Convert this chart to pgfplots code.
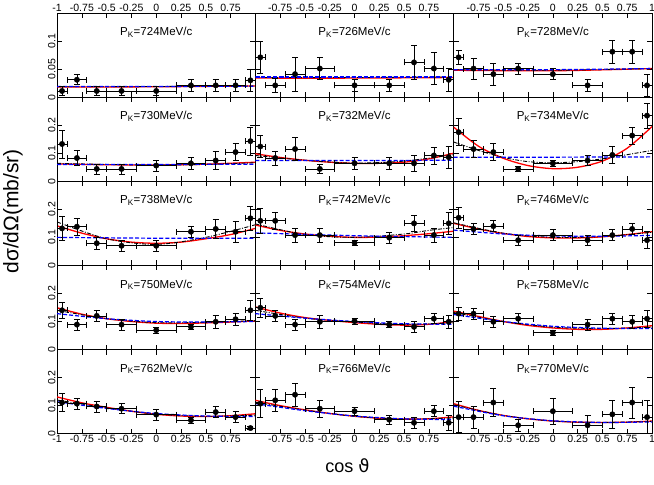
\documentclass[border=0pt]{standalone}
\usepackage{fontspec}
\setmainfont{Liberation Sans}
\newfontfamily\djv{DejaVu Sans}
\usepackage{pgfplots}
\pgfplotsset{compat=1.18}
\usepgfplotslibrary{groupplots}
\usetikzlibrary{calc}

\pgfplotsset{
  dat/.style={only marks, mark=*, mark size=2.7pt, black,
    error bars/.cd, x dir=both, x explicit, y dir=both, y explicit,
    error bar style={line width=0.7pt, black},
    error mark options={rotate=90, mark size=3pt, line width=0.7pt}},
  yA/.style={ymax=0.15, ytick={0,0.05,0.1}},
  yB/.style={ymax=0.3, ytick={0,0.1,0.2}},
  ylA/.style={yticklabels={0,0.05,0.1}},
  ylB/.style={yticklabels={0,0.1,0.2}},
  nyl/.style={yticklabels={{},{},{}}},
  xl1/.style={xticklabels={-1,-0.75,-0.5,-0.25,0,0.25,0.5,0.75,{}}},
  xl2/.style={xticklabels={{},-0.75,-0.5,-0.25,0,0.25,0.5,0.75,{}}},
  xl3/.style={xticklabels={{},-0.75,-0.5,-0.25,0,0.25,0.5,0.75,1}},
  nxl/.style={xticklabels={{},{},{},{},{},{},{},{},{}}},
  top/.style={xticklabel pos=right, xtick pos=both},
}

% #1 momentum, #2 data, #3 red, #4 blue, #5 black dash-dot
\newcommand{\panel}[5]{%
  \addplot[red, line width=1.3pt, smooth] coordinates {#3};
  \addplot[black, line width=0.9pt, smooth, dash pattern=on 4pt off 1.5pt on 1pt off 1.5pt] coordinates {#5};
  \addplot[blue, line width=1.2pt, smooth, dash pattern=on 4pt off 2pt] coordinates {#4};
  \addplot[dat] coordinates {#2};
  \node[font=\fontsize{11.5}{13}\selectfont] at (rel axis cs:0.5,0.77) {P\textsubscript{K}=#1MeV/c};
}

\begin{document}
\begin{tikzpicture}
\begin{groupplot}[
  group style={group size=3 by 5, horizontal sep=0pt, vertical sep=0pt},
  width=198pt, height=84pt, scale only axis,
  xmin=-1, xmax=1, ymin=0,
  xtick={-1,-0.75,-0.5,-0.25,0,0.25,0.5,0.75,1},
  tick align=inside, major tick length=5pt,
  tick style={black, line width=0.6pt},
  axis line style={line width=0.9pt},
  ticklabel style={font=\fontsize{10.5}{12}\selectfont},
  yticklabel style={rotate=90, anchor=south, inner sep=1.5pt},
  xticklabel style={inner sep=1.5pt},
]
% ---- row 1
\nextgroupplot[yA, ylA, xl1, top]
\panel{724}{(-0.95,0.011)+-(0.05,0.008) (-0.8,0.031)+-(0.1,0.009) (-0.6,0.011)+-(0.1,0.008) (-0.35,0.011)+-(0.15,0.008) (0,0.011)+-(0.2,0.008) (0.35,0.021)+-(0.15,0.01) (0.6,0.021)+-(0.1,0.01) (0.8,0.021)+-(0.1,0.01) (0.95,0.030)+-(0.05,0.02)}
{(-1,0.018) (0,0.0185) (1,0.020)}
{(-1,0.019) (0,0.019) (1,0.0195)}
{(-1,0.0185) (0,0.019) (1,0.020)}
\nextgroupplot[yA, nyl, xl2, top]
\panel{726}{(-0.95,0.071)+-(0.05,0.028) (-0.8,0.021)+-(0.1,0.012) (-0.6,0.041)+-(0.1,0.03) (-0.35,0.051)+-(0.15,0.02) (0,0.021)+-(0.2,0.01) (0.35,0.021)+-(0.15,0.01) (0.6,0.062)+-(0.1,0.03) (0.8,0.051)+-(0.1,0.029) (0.95,0.031)+-(0.05,0.02)}
{(-1,0.034) (0,0.034) (1,0.035)}
{(-1,0.036) (0,0.036) (1,0.036)}
{(-1,0.035) (0,0.035) (1,0.036)}
\nextgroupplot[yA, nyl, xl3, top]
\panel{728}{(-0.95,0.071)+-(0.05,0.012) (-0.8,0.051)+-(0.1,0.019) (-0.6,0.041)+-(0.1,0.02) (-0.35,0.051)+-(0.15,0.01) (0,0.041)+-(0.2,0.01) (0.35,0.021)+-(0.15,0.01) (0.6,0.081)+-(0.1,0.02) (0.8,0.081)+-(0.1,0.02) (0.95,0.021)+-(0.05,0.02)}
{(-1,0.048) (0,0.047) (1,0.051)}
{(-1,0.049) (0,0.049) (1,0.051)}
{(-1,0.049) (0,0.048) (1,0.051)}
% ---- row 2
\nextgroupplot[yB, ylB, nxl]
\panel{730}{(-0.95,0.133)+-(0.05,0.05) (-0.8,0.083)+-(0.1,0.026) (-0.6,0.044)+-(0.1,0.018) (-0.35,0.044)+-(0.15,0.018) (0,0.056)+-(0.2,0.02) (0.35,0.064)+-(0.15,0.02) (0.6,0.074)+-(0.1,0.033) (0.8,0.104)+-(0.1,0.03) (0.95,0.143)+-(0.05,0.05)}
{(-1,0.062) (-0.5,0.059) (0,0.058) (0.5,0.061) (1,0.068)}
{(-1,0.06) (0,0.06) (1,0.061)}
{(-1,0.064) (-0.5,0.06) (0,0.058) (0.5,0.06) (1,0.066)}
\nextgroupplot[yB, nyl, nxl]
\panel{732}{(-0.95,0.124)+-(0.05,0.04) (-0.8,0.083)+-(0.1,0.025) (-0.6,0.115)+-(0.1,0.042) (-0.35,0.044)+-(0.15,0.015) (0,0.064)+-(0.2,0.02) (0.35,0.064)+-(0.15,0.02) (0.6,0.064)+-(0.1,0.03) (0.8,0.092)+-(0.1,0.03) (0.95,0.086)+-(0.05,0.04)}
{(-1,0.098) (-0.75,0.085) (-0.5,0.075) (-0.25,0.068) (0,0.064) (0.25,0.064) (0.5,0.068) (0.75,0.08) (1,0.1)}
{(-1,0.074) (0,0.074) (1,0.075)}
{(-1,0.092) (-0.5,0.075) (0,0.065) (0.5,0.072) (1,0.095)}
\nextgroupplot[yB, nyl, nxl]
\panel{734}{(-0.95,0.175)+-(0.05,0.048) (-0.8,0.115)+-(0.1,0.03) (-0.6,0.104)+-(0.1,0.03) (-0.35,0.044)+-(0.15,0.01) (0,0.064)+-(0.2,0.01) (0.35,0.074)+-(0.15,0.018) (0.6,0.094)+-(0.1,0.03) (0.8,0.163)+-(0.1,0.03) (0.95,0.234)+-(0.05,0.045)}
{(-1,0.193) (-0.75,0.125) (-0.5,0.082) (-0.25,0.056) (0,0.045) (0.25,0.05) (0.5,0.072) (0.75,0.118) (1,0.195)}
{(-1,0.086) (0,0.086) (1,0.087)}
{(-1,0.14) (-0.75,0.11) (-0.5,0.085) (-0.25,0.07) (0,0.066) (0.25,0.07) (0.5,0.08) (0.75,0.095) (1,0.11)}
% ---- row 3
\nextgroupplot[yB, ylB, nxl]
\panel{738}{(-0.95,0.132)+-(0.05,0.042) (-0.8,0.138)+-(0.1,0.03) (-0.6,0.079)+-(0.1,0.022) (-0.35,0.07)+-(0.15,0.02) (0,0.07)+-(0.2,0.02) (0.35,0.12)+-(0.15,0.02) (0.6,0.13)+-(0.1,0.033) (0.8,0.12)+-(0.1,0.037) (0.95,0.168)+-(0.05,0.042)}
{(-1,0.141) (-0.75,0.115) (-0.5,0.095) (-0.25,0.083) (0,0.079) (0.25,0.083) (0.5,0.095) (0.75,0.11) (1,0.132)}
{(-1,0.1) (0,0.097) (1,0.097)}
{(-1,0.155) (-0.5,0.095) (0,0.075) (0.5,0.1) (1,0.145)}
\nextgroupplot[yB, nyl, nxl]
\panel{742}{(-0.95,0.159)+-(0.05,0.045) (-0.8,0.159)+-(0.1,0.03) (-0.6,0.108)+-(0.1,0.024) (-0.35,0.108)+-(0.15,0.024) (0,0.081)+-(0.2,0.01) (0.35,0.099)+-(0.15,0.02) (0.6,0.15)+-(0.1,0.03) (0.8,0.108)+-(0.1,0.024) (0.95,0.15)+-(0.05,0.04)}
{(-1,0.144) (-0.75,0.125) (-0.5,0.112) (-0.25,0.104) (0,0.1) (0.25,0.101) (0.5,0.106) (0.75,0.113) (1,0.122)}
{(-1,0.116) (0,0.106) (1,0.1)}
{(-1,0.148) (-0.5,0.11) (0,0.1) (0.5,0.112) (0.75,0.125) (1,0.135)}
\nextgroupplot[yB, nyl, nxl]
\panel{746}{(-0.95,0.17)+-(0.05,0.038) (-0.8,0.13)+-(0.1,0.02) (-0.6,0.14)+-(0.1,0.02) (-0.35,0.09)+-(0.15,0.018) (0,0.108)+-(0.2,0.02) (0.35,0.09)+-(0.15,0.018) (0.6,0.108)+-(0.1,0.02) (0.8,0.13)+-(0.1,0.02) (0.95,0.09)+-(0.05,0.03)}
{(-1,0.15) (-0.75,0.13) (-0.5,0.114) (-0.25,0.103) (0,0.098) (0.25,0.098) (0.5,0.102) (0.75,0.11) (1,0.12)}
{(-1,0.126) (-0.5,0.112) (0,0.105) (0.5,0.104) (1,0.107)}
{(-1,0.152) (-0.5,0.115) (0,0.1) (0.5,0.103) (1,0.118)}
% ---- row 4
\nextgroupplot[yB, ylB, nxl]
\panel{750}{(-0.95,0.14)+-(0.05,0.03) (-0.8,0.089)+-(0.1,0.02) (-0.6,0.12)+-(0.1,0.02) (-0.35,0.089)+-(0.15,0.02) (0,0.069)+-(0.2,0.01) (0.35,0.081)+-(0.15,0.01) (0.6,0.099)+-(0.1,0.024) (0.8,0.108)+-(0.1,0.02) (0.95,0.14)+-(0.05,0.036)}
{(-1,0.149) (-0.75,0.126) (-0.5,0.11) (-0.25,0.1) (0,0.094) (0.25,0.093) (0.5,0.095) (0.75,0.098) (1,0.102)}
{(-1,0.128) (-0.5,0.11) (0,0.1) (0.5,0.098) (1,0.1)}
{(-1,0.14) (-0.5,0.11) (0,0.096) (0.5,0.097) (1,0.103)}
\nextgroupplot[yB, nyl, nxl]
\panel{754}{(-0.95,0.149)+-(0.05,0.035) (-0.8,0.12)+-(0.1,0.02) (-0.6,0.089)+-(0.1,0.02) (-0.35,0.099)+-(0.15,0.024) (0,0.101)+-(0.2,0.01) (0.35,0.089)+-(0.15,0.01) (0.6,0.081)+-(0.1,0.02) (0.8,0.11)+-(0.1,0.018) (0.95,0.099)+-(0.05,0.024)}
{(-1,0.152) (-0.75,0.13) (-0.5,0.114) (-0.25,0.104) (0,0.096) (0.25,0.09) (0.5,0.087) (0.75,0.09) (1,0.1)}
{(-1,0.128) (-0.5,0.112) (0,0.1) (0.5,0.092) (1,0.09)}
{(-1,0.14) (-0.5,0.112) (0,0.098) (0.5,0.09) (1,0.095)}
\nextgroupplot[yB, nyl, nxl]
\panel{758}{(-0.95,0.128)+-(0.05,0.024) (-0.8,0.128)+-(0.1,0.02) (-0.6,0.099)+-(0.1,0.02) (-0.35,0.11)+-(0.15,0.018) (0,0.06)+-(0.2,0.01) (0.35,0.089)+-(0.15,0.02) (0.6,0.11)+-(0.1,0.02) (0.8,0.099)+-(0.1,0.022) (0.95,0.11)+-(0.05,0.03)}
{(-1,0.137) (-0.75,0.118) (-0.5,0.1) (-0.25,0.086) (0,0.077) (0.25,0.072) (0.5,0.072) (0.75,0.077) (1,0.085)}
{(-1,0.125) (-0.5,0.1) (0,0.083) (0.5,0.076) (1,0.075)}
{(-1,0.132) (-0.5,0.1) (0,0.08) (0.5,0.075) (1,0.08)}
% ---- row 5
\nextgroupplot[yB, ylB, xl1]
\panel{762}{(-0.95,0.111)+-(0.05,0.032) (-0.8,0.107)+-(0.1,0.02) (-0.6,0.097)+-(0.1,0.02) (-0.35,0.089)+-(0.15,0.018) (0,0.068)+-(0.2,0.02) (0.35,0.048)+-(0.15,0.01) (0.6,0.077)+-(0.1,0.02) (0.8,0.059)+-(0.1,0.02) (0.95,0.02)+-(0.05,0.006)}
{(-1,0.131) (-0.75,0.11) (-0.5,0.094) (-0.25,0.08) (0,0.069) (0.25,0.063) (0.5,0.061) (0.75,0.064) (1,0.071)}
{(-1,0.114) (-0.5,0.09) (0,0.072) (0.5,0.063) (1,0.061)}
{(-1,0.12) (-0.5,0.092) (0,0.07) (0.5,0.062) (1,0.066)}
\nextgroupplot[yB, nyl, xl2]
\panel{766}{(-0.95,0.107)+-(0.05,0.05) (-0.8,0.119)+-(0.1,0.04) (-0.6,0.139)+-(0.1,0.04) (-0.35,0.089)+-(0.15,0.03) (0,0.08)+-(0.2,0.015) (0.35,0.05)+-(0.15,0.015) (0.6,0.039)+-(0.1,0.02) (0.8,0.08)+-(0.1,0.02) (0.95,0.039)+-(0.05,0.028)}
{(-1,0.119) (-0.75,0.1) (-0.5,0.085) (-0.25,0.072) (0,0.062) (0.25,0.055) (0.5,0.052) (0.75,0.053) (1,0.06)}
{(-1,0.107) (-0.5,0.082) (0,0.063) (0.5,0.053) (1,0.05)}
{(-1,0.112) (-0.5,0.084) (0,0.062) (0.5,0.052) (1,0.056)}
\nextgroupplot[yB, nyl, xl3]
\panel{770}{(-0.95,0.059)+-(0.05,0.055) (-0.8,0.059)+-(0.1,0.04) (-0.6,0.111)+-(0.1,0.05) (-0.35,0.03)+-(0.15,0.022) (0,0.08)+-(0.2,0.045) (0.35,0.03)+-(0.15,0.036) (0.6,0.069)+-(0.1,0.05) (0.8,0.111)+-(0.1,0.055) (0.95,0.059)+-(0.05,0.06)}
{(-1,0.107) (-0.75,0.083) (-0.5,0.065) (-0.25,0.053) (0,0.045) (0.25,0.041) (0.5,0.04) (0.75,0.041) (1,0.045)}
{(-1,0.098) (-0.5,0.064) (0,0.046) (0.5,0.04) (1,0.042)}
{(-1,0.103) (-0.5,0.065) (0,0.045) (0.5,0.04) (1,0.044)}
\end{groupplot}
\node[rotate=90, font=\fontsize{21}{25}\selectfont] at ($(group c1r1.north west)+(-44pt,-198pt)$) {dσ/dΩ(mb/sr)};
\node[font=\fontsize{18}{21}\selectfont] at ($(group c1r5.south west)+(290pt,-32pt)$) {cos {\djv ϑ}};
\pgfresetboundingbox
\path[use as bounding box] ($(group c1r1.north west)+(-57pt,13pt)$) rectangle ($(group c3r5.south east)+(2pt,-51pt)$);
\end{tikzpicture}
\end{document}
